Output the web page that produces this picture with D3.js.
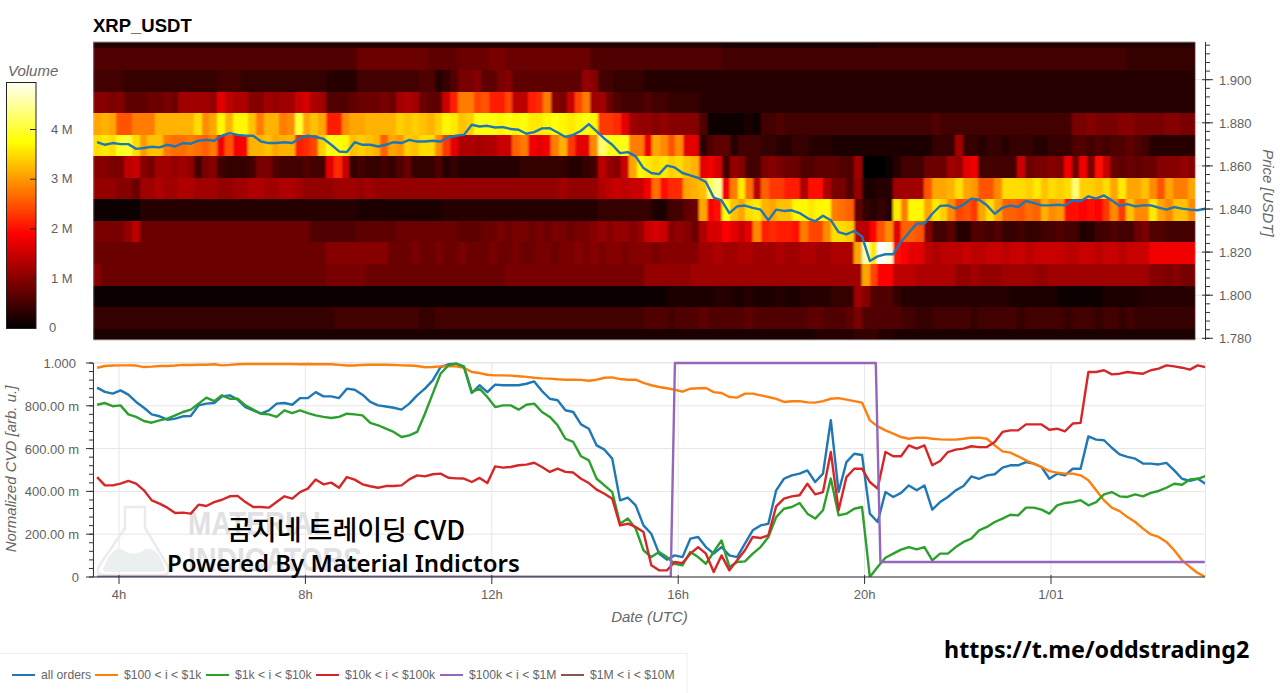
<!DOCTYPE html>
<html>
<head>
<meta charset="utf-8">
<script src="https://cdn.jsdelivr.net/npm/d3@7"></script>
<style>
  html, body { margin: 0; background: #fff; }
  svg { display: block; }
  text { font-family: "Liberation Sans", Arial, sans-serif; }
  .tick-label { font-size: 13px; fill: #5f5f5f; }
  .axis-title { font-size: 15px; font-style: italic; fill: #666; }
  .legend-label { font-size: 12.2px; fill: #666; }
  .overlay { font-family: "Noto Sans", "Noto Sans CJK KR", sans-serif; font-weight: 700; fill: #000; }
</style>
</head>
<body>
<svg id="chart" width="1280" height="693"></svg>
<script>
// Volume per price bin, in 0.1 M, one array per price bin, 10 minute columns
const heat192 = [3,3,3,3,3,3,3,3,3,3,3,3,3,3,3,3,3,3,3,3, 3,3,3,3,3,3,3,3,3,3,3,3,3,3,3,3,3,3,3,3, 3,3,3,3,3,3,3,3,3,3,3,3,3,3,3,3,3,3,3,3, 3,3,3,3,3,3,3,3,3,3,3,3,3,3,3,3,3,3,3,3, 3,2,2,2,2,2,2,2,2,2,2,2,2,2,2,2,2,2,2,2, 2,3,3,3,3,3,3,3,3,3,3,3,3,3,3,3,3,3,3,3, 3,3,3,3,3,3,3,3,3,3,3,3,3,3,3,3,3,3,3,3, 3,3];
const heat191 = [6,6,6,6,6,6,6,6,6,6,6,6,6,6,6,6,6,6,6,6, 6,6,6,6,6,6,6,6,6,6,6,6,6,6,8,8,8,8,8,8, 8,8,8,7,7,7,7,8,8,8,8,9,9,8,8,8,8,8,8,8, 8,8,8,8,6,6,6,6,6,6,6,6,6,6,6,6,6,6,6,6, 6,5,5,5,5,5,5,5,5,5,5,5,5,5,5,5,5,5,5,5, 5,5,5,5,5,5,5,5,5,5,5,5,5,5,5,5,5,5,5,5, 5,5,5,5,5,5,5,5,5,5,5,5,5,4,4,4,4,4,4,4, 4,4];
const heat190 = [5,5,5,5,4,4,4,4,4,4,4,4,4,4,4,4,5,5,5,4, 4,4,4,4,4,4,4,4,4,4,3,3,3,3,5,5,5,5,5,5, 5,5,6,6,3,4,6,9,9,10,7,7,9,10,7,7,7,7,7,7, 7,7,7,11,10,5,5,4,4,4,4,3,3,3,3,3,3,3,3,3, 3,3,3,3,3,3,3,3,3,3,3,3,3,3,3,3,3,3,3,3, 3,3,3,3,3,3,3,3,3,3,3,3,3,3,3,3,3,3,3,3, 3,3,3,3,3,3,3,3,3,3,3,3,3,3,3,3,3,3,3,3, 3,3];
const heat189 = [10,10,9,10,7,7,7,8,8,9,8,12,12,12,12,11,17,14,13,13, 10,10,12,11,12,12,15,16,13,12,6,6,6,7,8,8,8,9,8,12, 13,12,8,7,7,15,21,28,28,24,25,21,21,24,14,14,21,22,28,10, 9,15,24,28,12,12,8,6,5,5,5,6,5,5,4,4,4,4,3,3, 3,3,3,3,3,3,3,3,3,3,3,3,3,3,3,3,3,3,3,3, 3,3,3,3,3,3,3,3,3,3,3,3,3,3,3,3,3,3,3,3, 3,3,3,3,3,3,3,3,3,3,3,3,3,3,3,3,3,3,3,3, 3,3];
const heat188 = [31,32,31,25,25,28,28,28,32,32,32,32,32,35,29,31,37,32,37,37, 33,28,32,32,28,29,40,31,33,31,21,21,29,31,31,32,32,32,32,34, 33,34,33,32,34,37,36,33,34,38,38,38,37,38,37,38,36,36,37,38, 37,36,37,38,37,23,23,22,17,12,11,11,10,11,10,10,10,10,6,1, 1,1,1,1,2,1,5,5,6,5,5,5,5,5,5,5,5,5,5,5, 5,5,5,5,5,5,5,5,6,5,5,5,5,5,5,5,5,5,5,5, 5,5,5,5,5,5,9,9,10,9,9,9,10,10,9,9,9,9,10,10, 9,9];
const heat187 = [35,36,35,39,40,35,30,33,33,28,27,27,28,27,26,28,18,25,18,19, 32,32,33,31,32,32,21,22,24,34,38,38,37,33,34,33,32,26,31,30, 34,33,35,35,29,23,17,13,13,12,13,13,15,15,26,28,18,17,18,28, 32,23,17,17,29,43,39,38,39,28,28,18,31,29,25,29,17,17,3,6, 7,7,3,5,5,5,4,4,3,3,4,4,3,3,3,2,2,2,2,2, 2,2,2,2,2,2,2,2,4,4,4,12,4,4,3,4,4,3,4,4, 4,3,3,4,4,4,6,6,5,6,5,6,6,7,6,5,3,3,3,3, 3,3];
const heat186 = [10,10,9,9,14,15,10,9,12,12,11,12,11,5,9,10,5,4,4,4, 5,9,9,6,5,5,5,6,5,5,17,22,15,4,5,4,4,5,4,6, 8,4,4,4,6,3,4,3,3,3,3,3,3,3,3,4,4,4,4,4, 4,3,3,4,5,14,11,10,15,31,37,36,35,36,34,35,33,32,17,18, 16,5,11,10,5,5,9,10,9,8,8,6,6,7,7,7,6,6,12,0, 0,0,1,3,5,5,5,8,8,8,12,11,17,18,5,5,5,5,5,15, 8,9,9,10,9,18,8,18,9,20,15,8,7,8,7,8,8,10,10,10, 11,10];
const heat185 = [11,11,11,10,10,8,12,12,13,12,12,13,13,12,12,12,11,11,12,12, 13,13,12,12,13,13,12,11,11,11,11,12,12,12,11,12,11,11,11,11, 11,11,11,11,11,11,11,11,11,11,11,11,11,11,11,11,11,11,11,11, 12,11,11,11,11,13,14,15,14,15,15,18,27,20,22,22,31,32,33,42, 45,18,28,36,27,14,26,23,23,21,21,13,20,20,13,9,9,6,11,2, 2,3,3,12,12,12,12,25,31,31,32,35,31,30,25,25,29,35,35,35, 34,36,33,35,34,35,43,34,34,33,35,31,36,31,31,33,29,25,31,28, 28,31];
const heat184 = [1,1,1,1,1,1,3,3,3,3,3,3,3,3,3,3,3,3,3,3, 3,3,3,3,3,3,3,3,3,3,3,3,3,3,2,2,2,2,2,2, 2,2,2,2,2,3,3,3,3,3,3,3,3,3,3,3,3,3,3,3, 3,3,3,3,3,4,4,4,4,4,4,4,2,2,5,5,7,8,31,19, 20,38,33,31,35,36,32,31,33,33,37,37,36,37,37,28,27,26,7,4, 3,4,3,36,28,37,37,31,36,34,29,24,25,23,31,35,31,26,26,25, 27,26,32,29,30,20,20,19,20,19,23,29,23,33,29,29,36,31,29,33, 33,29];
const heat183 = [9,9,9,9,11,14,8,8,8,8,8,8,8,8,8,8,8,8,8,8, 8,8,8,8,8,8,8,8,6,6,6,6,6,6,7,7,7,7,7,8, 8,8,8,8,8,8,8,7,7,7,8,8,9,8,9,9,8,9,8,9, 9,8,9,9,10,11,10,11,11,10,11,15,16,15,10,11,10,8,13,16, 16,19,17,15,17,29,21,22,21,21,20,28,24,24,29,35,35,34,14,14, 19,25,29,17,26,26,25,10,5,5,7,3,3,6,6,5,6,4,4,5, 4,4,5,5,6,5,5,2,3,5,5,6,5,5,8,9,6,6,5,5, 5,5];
const heat182 = [8,8,8,8,8,8,8,8,8,8,8,8,8,8,8,8,8,8,8,8, 8,8,8,8,8,8,8,8,8,8,10,10,10,10,10,10,10,10,8,8, 8,9,8,8,9,8,8,9,8,8,8,9,8,8,9,8,8,9,9,8, 9,9,10,9,10,9,10,10,9,10,10,10,9,10,10,10,10,10,12,12, 13,12,12,13,13,12,12,12,13,12,12,13,13,12,12,13,13,13,31,46, 36,50,48,20,19,17,17,14,13,14,14,14,15,14,14,15,15,14,15,15, 14,15,15,15,15,14,14,15,15,14,15,15,14,15,15,15,18,18,18,18, 18,18];
const heat181 = [10,8,8,8,8,8,8,8,8,8,8,8,8,8,8,8,8,8,8,8, 8,8,8,8,8,8,8,8,8,8,9,9,9,9,9,8,8,8,8,8, 8,8,8,8,8,8,8,8,8,8,8,8,8,9,9,9,9,9,9,9, 9,9,9,9,9,9,9,9,9,9,9,11,11,11,11,11,11,12,12,12, 12,12,12,12,12,12,12,12,12,12,12,12,12,12,12,12,12,12,12,31, 24,19,19,14,14,14,13,13,13,13,13,11,11,12,11,11,11,12,12,12, 12,11,11,12,12,12,12,12,12,12,12,12,12,12,12,12,10,10,9,10, 9,9];
const heat180 = [1,1,1,1,1,1,1,1,1,1,1,1,1,1,1,1,1,1,1,1, 1,1,1,1,1,1,1,1,1,1,1,1,1,1,1,1,1,1,1,1, 1,1,1,1,1,1,1,1,1,1,1,1,1,1,1,1,1,1,1,1, 1,1,1,1,1,1,1,1,1,1,1,1,1,1,2,2,2,2,2,2, 3,3,2,2,3,2,2,2,3,2,2,3,3,3,3,4,4,4,12,10, 6,6,6,4,3,3,3,3,3,3,3,3,3,3,3,3,3,3,2,2, 2,2,2,2,1,1,1,1,1,1,2,2,2,2,2,3,3,3,3,3, 3,3];
const heat179 = [4,4,4,4,4,4,4,4,4,4,4,4,4,4,4,4,4,4,4,4, 4,4,4,4,4,4,4,4,4,4,4,5,5,5,5,5,5,5,5,5, 5,5,4,4,5,5,5,5,5,5,5,5,5,5,5,5,5,5,5,5, 5,5,5,5,5,5,5,5,5,5,5,6,6,6,5,6,6,6,7,6, 6,6,6,6,7,6,6,6,6,6,6,6,7,7,6,6,6,7,9,6, 6,6,6,6,5,5,4,4,5,5,5,5,5,4,5,5,5,5,5,4, 5,5,5,5,5,4,5,5,5,4,5,5,4,5,4,4,4,4,4,4, 4,4];
const heat178 = [2,2,2,2,2,2,2,2,2,2,2,2,2,2,2,2,2,2,2,2, 2,2,2,2,2,2,2,2,2,2,2,2,2,2,2,2,2,2,2,2, 2,2,2,2,2,2,2,2,2,2,2,2,2,2,2,2,2,2,2,2, 2,2,2,2,2,2,2,2,2,2,2,2,2,2,2,2,2,2,2,2, 2,2,2,2,2,2,2,2,2,2,2,2,2,3,3,3,3,3,4,4, 4,3,3,2,2,2,2,2,2,2,2,2,2,2,2,2,2,2,2,2, 2,2,2,2,2,2,2,2,2,2,2,2,2,2,2,2,2,2,2,2, 2,2];

// Top edge price of each bin, same order as heatRows
const heatRows = [heat192, heat191, heat190, heat189, heat188, heat187, heat186, heat185, heat184, heat183, heat182, heat181, heat180, heat179, heat178];
const heatTops = [1.9245, 1.9145, 1.9045, 1.8945, 1.8845, 1.8745, 1.8645, 1.8545, 1.8445, 1.8345, 1.8245, 1.8145, 1.8045, 1.7945, 1.7845];

const priceLine = [
  1.8710,1.8698,1.8706,1.8701,1.8701,1.8679,1.8683,1.8689,1.8686,1.8698,
  1.8690,1.8706,1.8703,1.8717,1.8721,1.8717,1.8740,1.8752,1.8744,1.8740,
  1.8740,1.8713,1.8706,1.8706,1.8710,1.8706,1.8729,1.8740,1.8734,1.8726,
  1.8698,1.8667,1.8664,1.8710,1.8698,1.8698,1.8690,1.8698,1.8710,1.8706,
  1.8721,1.8713,1.8713,1.8717,1.8713,1.8732,1.8740,1.8744,1.8791,1.8783,
  1.8786,1.8778,1.8780,1.8771,1.8768,1.8749,1.8757,1.8774,1.8775,1.8755,
  1.8734,1.8744,1.8763,1.8794,1.8760,1.8726,1.8698,1.8659,1.8664,1.8644,
  1.8590,1.8567,1.8562,1.8601,1.8593,1.8567,1.8556,1.8544,1.8525,1.8453,
  1.8440,1.8381,1.8412,1.8416,1.8405,1.8397,1.8348,1.8397,1.8391,1.8394,
  1.8381,1.8358,1.8343,1.8369,1.8348,1.8293,1.8282,1.8298,1.8273,1.8159,
  1.8180,1.8190,1.8190,1.8247,1.8290,1.8332,1.8332,1.8378,1.8414,1.8417,
  1.8402,1.8420,1.8448,1.8443,1.8417,1.8378,1.8406,1.8416,1.8409,1.8437,
  1.8428,1.8417,1.8417,1.8420,1.8417,1.8440,1.8436,1.8459,1.8448,1.8463,
  1.8440,1.8414,1.8423,1.8412,1.8417,1.8417,1.8406,1.8397,1.8409,1.8402,
  1.8397,1.8394,1.8402];

const cvdAll = [
  .885,.865,.857,.872,.852,.818,.791,.760,.751,.735,
  .740,.751,.752,.802,.810,.813,.844,.849,.829,.794,
  .779,.763,.779,.810,.813,.805,.836,.836,.864,.844,
  .844,.836,.880,.875,.852,.818,.802,.797,.791,.782,
  .810,.849,.880,.919,.981,.994,.997,.984,.860,.896,
  .864,.899,.896,.896,.896,.903,.914,.869,.833,.826,
  .779,.771,.713,.693,.615,.595,.553,.358,.371,.335,
  .241,.202,.109,.081,.101,.093,.179,.187,.140,.109,
  .140,.101,.093,.156,.218,.241,.249,.405,.459,.475,
  .483,.498,.444,.483,.733,.397,.537,.576,.570,.296,
  .257,.397,.374,.393,.428,.405,.428,.315,.350,.374,
  .405,.425,.470,.459,.475,.480,.511,.522,.522,.537,
  .530,.514,.459,.483,.475,.506,.506,.657,.642,.639,
  .604,.573,.561,.553,.530,.530,.526,.533,.498,.459,
  .449,.459,.436];
const cvd100 = [
  .978,.986,.988,.989,.989,.988,.981,.983,.986,.986,
  .988,.991,.991,.992,.992,.994,.989,.991,.994,.995,
  .995,.995,.995,.995,.995,.995,.994,.995,.994,.994,
  .994,.991,.988,.988,.991,.992,.992,.992,.991,.989,
  .988,.986,.980,.981,.984,.986,.984,.978,.958,.953,
  .945,.942,.942,.941,.938,.935,.931,.928,.927,.924,
  .922,.922,.921,.917,.922,.931,.933,.925,.922,.922,
  .907,.896,.888,.882,.875,.866,.880,.882,.883,.864,
  .860,.841,.838,.857,.857,.849,.841,.832,.818,.821,
  .822,.816,.815,.822,.833,.836,.829,.822,.815,.732,
  .704,.685,.670,.654,.646,.651,.651,.646,.643,.642,
  .642,.646,.651,.651,.646,.615,.587,.581,.564,.545,
  .530,.514,.495,.488,.483,.483,.475,.452,.405,.358,
  .324,.308,.280,.257,.226,.199,.187,.164,.125,.078,
  .047,.019,0];
const cvd1k = [
  .805,.813,.798,.802,.760,.748,.729,.721,.732,.740,
  .755,.771,.782,.810,.838,.822,.849,.833,.833,.802,
  .782,.763,.760,.748,.779,.766,.779,.766,.755,.748,
  .743,.748,.763,.760,.755,.720,.709,.693,.678,.654,
  .662,.678,.763,.857,.950,.989,.997,.981,.864,.880,
  .841,.794,.802,.802,.782,.805,.810,.771,.748,.709,
  .646,.631,.564,.545,.459,.428,.397,.249,.273,.226,
  .125,.093,.117,.093,.062,.055,.117,.093,.062,.117,
  .171,.047,.070,.073,.109,.140,.187,.280,.319,.327,
  .346,.296,.273,.312,.460,.288,.296,.319,.327,0,
  .047,.090,.109,.128,.140,.129,.140,.078,.109,.109,
  .140,.164,.179,.218,.234,.257,.273,.291,.288,.324,
  .324,.315,.296,.335,.346,.350,.359,.335,.350,.386,
  .397,.377,.374,.386,.377,.393,.402,.417,.436,.431,
  .456,.459,.472];
const cvd10k = [
  .467,.428,.428,.436,.449,.436,.405,.358,.343,.324,
  .299,.301,.296,.338,.332,.350,.361,.377,.379,.350,
  .327,.327,.324,.350,.377,.366,.397,.413,.456,.433,
  .441,.417,.467,.455,.433,.424,.417,.425,.425,.428,
  .456,.475,.470,.480,.483,.464,.461,.460,.444,.463,
  .439,.517,.511,.514,.522,.525,.534,.514,.491,.506,
  .491,.488,.459,.439,.408,.389,.366,.241,.249,.234,
  .210,.055,.031,.031,.070,.065,.109,.140,.109,.023,
  .101,.031,.078,.125,.187,.182,.195,.330,.366,.377,
  .382,.436,.386,.397,.584,.312,.467,.506,.506,.444,
  .413,.584,.564,.564,.615,.600,.615,.522,.542,.584,
  .595,.600,.611,.607,.607,.631,.678,.685,.685,.713,
  .713,.713,.688,.693,.681,.717,.720,.958,.958,.966,
  .947,.950,.958,.953,.950,.966,.974,.989,.984,.978,
  .969,.989,.981];

// These two step, so they keep their own times
const cvd100kHours = [3.53, 15.84, 15.93, 20.24, 20.34, 27.3];
const cvd100k = [0, 0, 1, 1, .07, .07];
const cvd1MHours = [3.53, 15.84];
const cvd1M = [0, 0];

const legendNames = ['all orders', '$100 < i < $1k', '$1k < i < $10k', '$10k < i < $100k', '$100k < i < $1M', '$1M < i < $10M'];
const legendColors = ['#1f77b4', '#ff7f0e', '#2ca02c', '#d62728', '#9467bd', '#8c564b'];
const legendGlyphX = [12, 95, 206, 316, 440, 561];

const priceTicks = [1.78, 1.80, 1.82, 1.84, 1.86, 1.88, 1.90];
const volumeTicks = [0, 1, 2, 3, 4];
const cvdTicks = [0, .2, .4, .6, .8, 1];
const cvdTickLabels = ['0', '200.00 m', '400.00 m', '600.00 m', '800.00 m', '1.000'];
const hourTicks = [4, 8, 12, 16, 20, 24];
const hourTickLabels = ['4h', '8h', '12h', '16h', '20h', '1/01'];

const lineHours = d3.range(priceLine.length).map((i) => 3.53 + i * 0.1675);
const heatStart = 3.442;
const heatStep = 1 / 6;

const svg = d3.select('#chart');

const x = d3.scaleLinear().domain([heatStart, 27.305]).range([93, 1205]);
const yPrice = d3.scaleLinear().domain([1.78, 1.90]).range([338.3, 79.7]);
const yCvd = d3.scaleLinear().domain([0, 1]).range([577, 363]);
const yVolume = d3.scaleLinear().domain([0, 4]).range([328.3, 129.5]);

// bokeh style Hot palette
const hot = d3.scaleLinear()
  .domain([0, 1.9, 3.75, 5])
  .range(['#000000', '#ff0000', '#ffff00', '#ffffff'])
  .clamp(true);

const defs = svg.append('defs');
defs.append('clipPath').attr('id', 'clip-heat').append('rect')
  .attr('x', 93).attr('y', 42).attr('width', 1112).attr('height', 298);
defs.append('clipPath').attr('id', 'clip-heat-cells').append('rect')
  .attr('x', 93).attr('y', 42).attr('width', 1102.5).attr('height', 298);
defs.append('clipPath').attr('id', 'clip-cvd').append('rect')
  .attr('x', 93).attr('y', 361).attr('width', 1112).attr('height', 216);
// the picture was scaled up from a coarser image, cells bleed a bit sideways
defs.append('filter').attr('id', 'soft')
  .attr('filterUnits', 'userSpaceOnUse')
  .attr('x', 80).attr('y', 20).attr('width', 1140).attr('height', 340)
  .append('feGaussianBlur').attr('stdDeviation', '1.3 0.4');

// ---- top panel ----
svg.append('text').attr('x', 93).attr('y', 32)
  .style('font-size', '18.5px').style('font-weight', 700).style('fill', '#000')
  .text('XRP_USDT');

const gridTop = svg.append('g');
gridTop.selectAll('line').data(priceTicks).join('line')
  .attr('x1', 93).attr('x2', 1205)
  .attr('y1', (d) => yPrice(d)).attr('y2', (d) => yPrice(d))
  .attr('stroke', '#e6e6e6');

const heat = svg.append('g').attr('clip-path', 'url(#clip-heat-cells)')
  .append('g').attr('filter', 'url(#soft)').attr('shape-rendering', 'crispEdges');
heatRows.forEach((row, r) => {
  heat.append('g').selectAll('rect').data(row).join('rect')
    .attr('x', (d, c) => x(heatStart + c * heatStep))
    .attr('width', x(heatStart + heatStep) - x(heatStart) + 0.5)
    .attr('y', yPrice(heatTops[r]))
    .attr('height', yPrice(heatTops[r] - 0.01) - yPrice(heatTops[r]) + 0.5)
    .attr('fill', (d) => hot(d / 10));
});
svg.append('line').attr('x1', 93).attr('x2', 1195).attr('y1', 42).attr('y2', 42).attr('stroke', '#999');
svg.append('line').attr('x1', 93).attr('x2', 1195).attr('y1', 340).attr('y2', 340).attr('stroke', '#bbb');

svg.append('path').datum(priceLine)
  .attr('clip-path', 'url(#clip-heat)')
  .attr('fill', 'none').attr('stroke', '#1f77b4').attr('stroke-width', 2.4)
  .attr('stroke-linejoin', 'round')
  .attr('d', d3.line().x((d, i) => x(lineHours[i])).y((d) => yPrice(d)));

// price axis, right side, major ticks every 0.02 and minor every 0.004
const axisPrice = svg.append('g').attr('stroke', '#333');
axisPrice.append('line').attr('x1', 1205.5).attr('x2', 1205.5).attr('y1', 42).attr('y2', 340);
axisPrice.selectAll('line.minor').data(d3.range(0, 35).map((i) => 1.78 + i * 0.004)).join('line')
  .attr('class', 'minor')
  .attr('x1', 1205).attr('x2', 1210)
  .attr('y1', (d) => yPrice(d)).attr('y2', (d) => yPrice(d));
axisPrice.selectAll('line.major').data(priceTicks).join('line')
  .attr('class', 'major')
  .attr('x1', 1202).attr('x2', 1213)
  .attr('y1', (d) => yPrice(d)).attr('y2', (d) => yPrice(d));
svg.selectAll('text.price-label').data(priceTicks).join('text')
  .attr('class', 'price-label tick-label')
  .attr('x', 1219).attr('y', (d) => yPrice(d) + 5)
  .text((d) => d.toFixed(3));
svg.append('text').attr('class', 'axis-title')
  .attr('transform', 'translate(1263,193) rotate(90)')
  .attr('text-anchor', 'middle')
  .text('Price [USDT]');

// ---- colour bar ----
const barValues = d3.range(0, 4.96, 0.01);
svg.append('g').attr('shape-rendering', 'crispEdges')
  .selectAll('rect').data(barValues).join('rect')
  .attr('x', 7).attr('width', 29)
  .attr('y', (d) => yVolume(d) - 1).attr('height', 1.5)
  .attr('fill', (d) => hot(d));
svg.append('rect').attr('x', 6.5).attr('y', 82.5).attr('width', 29.5).attr('height', 246)
  .attr('fill', 'none').attr('stroke', '#222');
svg.append('g').attr('stroke', '#222').selectAll('line').data(volumeTicks.slice(1)).join('line')
  .attr('x1', 30).attr('x2', 36)
  .attr('y1', (d) => yVolume(d)).attr('y2', (d) => yVolume(d));
svg.selectAll('text.vol-label').data(volumeTicks).join('text')
  .attr('class', 'vol-label tick-label')
  .attr('x', (d) => d === 0 ? 49 : 51)
  .attr('y', (d) => yVolume(d) + 4)
  .text((d) => d === 0 ? '0' : `${d} M`);
svg.append('text').attr('class', 'axis-title').attr('x', 8).attr('y', 76).text('Volume');

// ---- CVD panel ----
svg.append('rect').attr('x', 93).attr('y', 362.5).attr('width', 1112.5).attr('height', 214.5)
  .attr('fill', 'none').attr('stroke', '#e8e8e8');
svg.append('g').attr('stroke', '#e6e6e6').selectAll('line').data(cvdTicks).join('line')
  .attr('x1', 93).attr('x2', 1205)
  .attr('y1', (d) => yCvd(d)).attr('y2', (d) => yCvd(d));
svg.append('g').attr('stroke', '#e6e6e6').selectAll('line').data(hourTicks).join('line')
  .attr('x1', (d) => x(d)).attr('x2', (d) => x(d))
  .attr('y1', 363).attr('y2', 577);

// material indicators watermark
const mark = svg.append('g');
mark.append('path')
  .attr('d', 'M125,507 H145 V528 L168,566 Q171,575 162,575 H105 Q95,575 99,566 L125,528 Z')
  .attr('fill', 'none').attr('stroke', '#e9ebec').attr('stroke-width', 2.5);
mark.append('path')
  .attr('d', 'M103,569 Q112,546 122,549 Q133,558 146,549 Q158,546 165,569 Q165,572 160,572 H108 Q103,572 103,569 Z')
  .attr('fill', '#ecefef');
mark.append('text').attr('x', 188).attr('y', 535)
  .attr('textLength', 142).attr('lengthAdjust', 'spacingAndGlyphs')
  .style('font-size', '33px').style('font-weight', 700).style('fill', '#dfe1e3').text('MATERIAL');
mark.append('text').attr('x', 188).attr('y', 571)
  .attr('textLength', 174).attr('lengthAdjust', 'spacingAndGlyphs')
  .style('font-size', '33px').style('font-weight', 700).style('fill', '#dfe1e3').text('INDICATORS');

// series
const cvdLine = d3.line().x((d, i) => x(lineHours[i])).y((d) => yCvd(d));
const cvdStep = (hours) => d3.line().x((d, i) => x(hours[i])).y((d) => yCvd(d));
const cvdPlot = svg.append('g').attr('clip-path', 'url(#clip-cvd)')
  .attr('fill', 'none').attr('stroke-width', 2.4).attr('stroke-linejoin', 'round');
[cvdAll, cvd100, cvd1k, cvd10k].forEach((values, k) => {
  cvdPlot.append('path').datum(values).attr('stroke', legendColors[k]).attr('d', cvdLine);
});
cvdPlot.append('path').datum(cvd1M).attr('stroke', legendColors[5]).attr('d', cvdStep(cvd1MHours));
cvdPlot.append('path').datum(cvd100k).attr('stroke', legendColors[4]).attr('d', cvdStep(cvd100kHours));

// axes
const axisCvd = svg.append('g').attr('stroke', '#333');
axisCvd.append('line').attr('x1', 93.5).attr('x2', 93.5).attr('y1', 363).attr('y2', 577);
axisCvd.append('line').attr('x1', 93).attr('x2', 1205).attr('y1', 577).attr('y2', 577);
axisCvd.selectAll('line.minor').data(d3.range(0, 26).map((i) => i * 0.04)).join('line')
  .attr('class', 'minor')
  .attr('x1', 89).attr('x2', 93)
  .attr('y1', (d) => yCvd(d)).attr('y2', (d) => yCvd(d));
axisCvd.selectAll('line.major').data(cvdTicks).join('line')
  .attr('class', 'major')
  .attr('x1', 86).attr('x2', 93)
  .attr('y1', (d) => yCvd(d)).attr('y2', (d) => yCvd(d));
axisCvd.selectAll('line.xtick').data(hourTicks).join('line')
  .attr('class', 'xtick')
  .attr('x1', (d) => x(d)).attr('x2', (d) => x(d))
  .attr('y1', 575).attr('y2', 584);
svg.selectAll('text.cvd-label').data(cvdTicks).join('text')
  .attr('class', 'cvd-label tick-label')
  .attr('text-anchor', 'end')
  .attr('x', (d) => d === 1 ? 76 : 79)
  .attr('y', (d) => yCvd(d) + 5)
  .text((d, i) => cvdTickLabels[i]);
svg.selectAll('text.hour-label').data(hourTicks).join('text')
  .attr('class', 'hour-label tick-label')
  .attr('text-anchor', 'middle')
  .attr('x', (d) => x(d)).attr('y', 599)
  .text((d, i) => hourTickLabels[i]);
svg.append('text').attr('class', 'axis-title')
  .attr('transform', 'translate(16,469) rotate(-90)')
  .attr('text-anchor', 'middle')
  .text('Normalized CVD [arb. u.]');
svg.append('text').attr('class', 'axis-title')
  .attr('x', 649.5).attr('y', 622).attr('text-anchor', 'middle')
  .text('Date (UTC)');

// ---- legend ----
svg.append('rect').attr('x', -1).attr('y', 653.5).attr('width', 688).attr('height', 45)
  .attr('fill', '#fff').attr('stroke', '#eeeeee');
const legend = svg.append('g').selectAll('g').data(legendNames).join('g')
  .attr('transform', (d, i) => `translate(${legendGlyphX[i]},675)`);
legend.append('line').attr('x1', 0).attr('x2', 23)
  .attr('stroke', (d, i) => legendColors[i]).attr('stroke-width', 2);
legend.append('text').attr('class', 'legend-label').attr('x', 29).attr('y', 4).text((d) => d);

// ---- text pasted over the chart ----
svg.append('text').attr('class', 'overlay').attr('x', 227).attr('y', 540)
  .style('font-family', '"Noto Sans CJK KR", sans-serif').style('font-size', '27px').style('font-weight', 500)
  .text('곰지네 트레이딩 CVD');
svg.append('text').attr('class', 'overlay').attr('x', 167).attr('y', 572)
  .style('font-size', '24px').style('font-weight', 600)
  .text('Powered By Material Indictors');
svg.append('text').attr('class', 'overlay').attr('x', 944).attr('y', 658)
  .style('font-size', '23.3px')
  .text('https://t.me/oddstrading2');
</script>
</body>
</html>
